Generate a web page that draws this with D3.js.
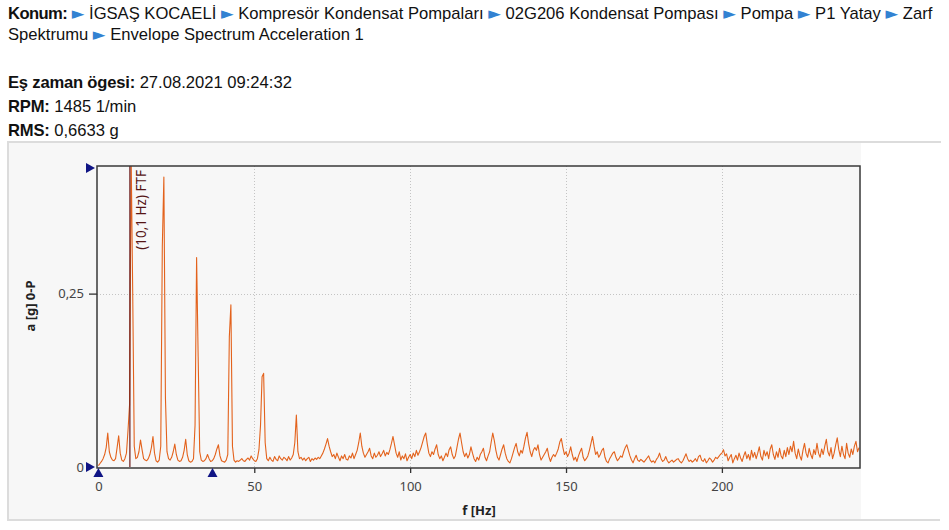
<!DOCTYPE html>
<html><head><meta charset="utf-8">
<script src="https://cdn.jsdelivr.net/npm/d3@7"></script>
<style>
html,body{margin:0;padding:0;background:#fff;}
svg{display:block;}
</style></head>
<body>
<svg id="chart" width="949" height="530"></svg>
<script>
// ---------- data ----------
const breadcrumb = ["İGSAŞ KOCAELİ", "Kompresör Kondensat Pompaları", "02G206 Kondensat Pompası", "Pompa", "P1 Yatay", "Zarf Spektrumu", "Envelope Spectrum Acceleration 1"];
const infoLabels = ["Eş zaman ögesi:", "RPM:", "RMS:"];
const infoValues = ["27.08.2021 09:24:32", "1485 1/min", "0,6633 g"];

const freqStart = 0;      // Hz
const freqStep = 0.5;     // Hz per spectral line
// amplitude per spectral line, in milli-g (0-P)
const ampMg = [
  2,5,8,12,18,28,49,22,14,10,9,12,28,45,20,10,8,12,20,53,
  90,450,253,30,12,14,22,39,25,12,10,9,12,18,28,44,20,9,7,10,
  30,318,418,100,22,12,10,14,22,33,18,10,8,9,14,24,40,18,9,7,
  8,12,60,302,159,22,10,8,9,12,18,12,8,9,12,18,26,32,16,9,
  8,7,10,18,188,234,30,10,7,9,8,10,12,9,8,11,13,10,16,12,
  9,8,12,25,60,130,135,35,12,9,14,10,8,15,11,9,16,12,10,14,
  12,9,15,10,13,18,35,75,22,12,14,10,13,9,12,14,8,12,10,13,
  11,14,12,16,20,26,33,41,30,22,15,18,12,20,14,9,16,12,18,11,
  10,16,13,20,12,18,24,35,49,30,20,14,18,22,27,16,12,20,14,17,
  22,15,19,24,16,21,18,25,34,44,32,20,14,22,10,16,12,19,9,14,
  18,12,20,15,24,17,22,28,36,44,49,33,20,15,22,18,26,32,18,12,
  16,9,14,20,15,25,29,18,12,16,28,40,49,35,22,15,20,13,18,29,
  20,12,8,14,10,18,22,27,14,9,16,22,36,49,38,24,14,10,18,26,
  32,20,12,8,6,12,20,28,34,22,16,24,20,30,42,50,34,22,15,24,
  28,24,32,18,10,14,18,22,27,15,8,14,18,15,20,26,36,41,28,18,
  22,15,20,29,18,10,14,8,16,22,27,14,9,12,16,24,34,44,30,18,
  22,14,18,24,27,14,8,6,12,16,20,22,14,9,12,16,14,22,28,32,
  24,16,10,6,12,17,10,8,11,9,7,10,13,16,10,7,9,6,11,14,
  20,12,8,10,15,9,6,8,10,7,9,11,12,8,6,9,14,19,12,8,
  10,7,9,12,8,15,17,10,8,12,6,9,13,11,7,10,14,12,15,18,
  20,25,16,19,9,14,18,6,12,17,10,20,13,8,16,22,12,18,10,24,
  14,21,12,20,29,15,10,24,16,22,12,26,32,18,11,22,14,27,16,12,
  24,15,28,18,30,22,37,20,12,26,16,10,24,34,20,14,27,18,12,25,
  18,34,20,14,26,18,30,40,22,16,28,12,20,32,42,25,15,30,18,12,
  34,20,14,26,18,30,37,22,28
];
const xDomain = [-0.45, 244.3];
const yDomain = [0, 0.434];
const xTicks = [0, 50, 100, 150, 200];
const yTicks = [0, 0.25];
const cursorFreq = [10.1];
const cursorLabel = ["(10,1 Hz) FTF"];
const xMarkers = [0, 36.6];      // blue range markers on the frequency axis
const yMarkers = [0.431, 0];     // blue range markers on the amplitude axis
const xTitle = "f [Hz]";
const yTitle = "a [g] 0-P";

// ---------- drawing ----------
const svg = d3.select("#chart");
const M = {left: 97, right: 860, top: 166, bottom: 467};
const x = d3.scaleLinear().domain(xDomain).range([M.left, M.right]);
const y = d3.scaleLinear().domain(yDomain).range([M.bottom, M.top]);

// header
const hFont = "'Liberation Sans', Arial, sans-serif";
const hSize = 16.6;
const blue = "#3282d2";
function arrow(t) {
  t.append("tspan").attr("fill", blue).attr("font-family", "'DejaVu Sans', sans-serif").attr("font-size", 16.5).text("►");
}
const line1 = svg.append("text").attr("x", 8).attr("y", 19).attr("font-family", hFont).attr("font-size", hSize).attr("fill", "#111");
line1.append("tspan").attr("font-weight", "bold").attr("letter-spacing", -0.6).text("Konum:");
const crumbs1 = breadcrumb.slice(0, 5).concat(["Zarf"]);
crumbs1.forEach(c => {
  line1.append("tspan").text(" ");
  arrow(line1);
  line1.append("tspan").text(" " + c);
});
const line2 = svg.append("text").attr("x", 8).attr("y", 40).attr("font-family", hFont).attr("font-size", hSize).attr("fill", "#111");
line2.append("tspan").text("Spektrumu ");
arrow(line2);
line2.append("tspan").text(" " + breadcrumb[6]);

infoLabels.forEach((lab, i) => {
  const t = svg.append("text").attr("x", 8).attr("y", 88 + i * 24).attr("font-family", hFont).attr("font-size", hSize).attr("fill", "#111");
  t.append("tspan").attr("font-weight", "bold").attr("letter-spacing", -0.2).text(lab);
  t.append("tspan").text(" " + infoValues[i]);
});

// panel
svg.append("rect").attr("x", 9).attr("y", 143).attr("width", 852).attr("height", 376).attr("fill", "#f7f7f7");
const pb = svg.append("g").attr("stroke", "#dcdcdc").attr("stroke-width", 2).attr("fill", "none");
pb.append("line").attr("x1", 7).attr("x2", 941).attr("y1", 142).attr("y2", 142);
pb.append("line").attr("x1", 8).attr("x2", 8).attr("y1", 142).attr("y2", 520);
pb.append("line").attr("x1", 7).attr("x2", 940).attr("y1", 520).attr("y2", 520);

// grid
const grid = svg.append("g").attr("stroke", "#c4c4c4").attr("stroke-width", 1).attr("stroke-dasharray", "1,2");
grid.selectAll("line.gx").data(xTicks.filter(d => d > 0)).join("line")
  .attr("x1", d => Math.round(x(d)) + 0.5).attr("x2", d => Math.round(x(d)) + 0.5)
  .attr("y1", M.top).attr("y2", M.bottom);
grid.selectAll("line.gy").data(yTicks.filter(d => d > 0)).join("line")
  .attr("y1", d => Math.round(y(d)) + 0.5).attr("y2", d => Math.round(y(d)) + 0.5)
  .attr("x1", M.left).attr("x2", M.right);

// clip
svg.append("defs").append("clipPath").attr("id", "clip")
  .append("rect").attr("x", M.left).attr("y", M.top).attr("width", M.right - M.left).attr("height", M.bottom - M.top + 1);

// spectrum
const data = ampMg.map((a, i) => ({f: freqStart + i * freqStep, a: a / 1000}));
svg.append("path").datum(data)
  .attr("clip-path", "url(#clip)")
  .attr("fill", "none").attr("stroke", "#e3621c").attr("stroke-width", 1.1).attr("stroke-linejoin", "round")
  .attr("d", d3.line().x(d => x(d.f)).y(d => y(d.a)));

// cursor
svg.selectAll("line.cursor").data(cursorFreq).join("line")
  .attr("x1", d => x(d)).attr("x2", d => x(d)).attr("y1", M.top).attr("y2", M.bottom)
  .attr("stroke", "#6a1818").attr("stroke-width", 1.2);
svg.selectAll("text.cursorLab").data(cursorFreq).join("text")
  .attr("transform", d => `translate(${x(d) + 16},${M.top + 4}) rotate(-90)`)
  .attr("text-anchor", "end").attr("font-family", "'Noto Sans', sans-serif").attr("font-size", 13.5)
  .attr("fill", "#561515").text((d, i) => cursorLabel[i]);

// frame
svg.append("rect").attr("x", M.left).attr("y", M.top).attr("width", M.right - M.left).attr("height", M.bottom - M.top + 1)
  .attr("fill", "none").attr("stroke", "#3a3a3a").attr("stroke-width", 1.5);

// axes
const axFont = "'Noto Sans', sans-serif";
const gy = svg.append("g").attr("transform", `translate(${M.left},0)`)
  .call(d3.axisLeft(y).tickValues(yTicks).tickSize(8).tickPadding(5)
    .tickFormat(d => d === 0 ? "0" : d3.format(".2f")(d).replace(".", ",")));
gy.select(".domain").remove();
gy.selectAll("text").attr("font-family", axFont).attr("font-size", 13).attr("fill", "#444");
gy.selectAll("line").attr("stroke", "#333").attr("stroke-width", 1.3);
gy.selectAll(".tick").filter(d => d === 0).select("line").remove();

const gx = svg.append("g").attr("transform", `translate(0,${M.bottom + 1})`)
  .call(d3.axisBottom(x).tickValues(xTicks).tickSize(5).tickPadding(9).tickFormat(d3.format("d")));
gx.select(".domain").remove();
gx.selectAll("text").attr("font-family", axFont).attr("font-size", 13).attr("fill", "#444");
gx.selectAll("line").attr("stroke", "#333").attr("stroke-width", 1.3);
gx.selectAll(".tick").filter(d => d === 0).select("line").remove();

// titles
svg.append("text").attr("x", 479).attr("y", 515).attr("text-anchor", "middle")
  .attr("font-family", axFont).attr("font-weight", "bold").attr("font-size", 13).attr("fill", "#222").text(xTitle);
svg.append("text").attr("transform", "translate(35,306) rotate(-90)").attr("text-anchor", "middle")
  .attr("font-family", axFont).attr("font-weight", "bold").attr("font-size", 13).attr("fill", "#222").text(yTitle);

// blue markers
const navy = "#101585";
svg.selectAll("path.ym").data(yMarkers).join("path")
  .attr("d", d => `M${M.left - 2},${y(d)} L${M.left - 11},${y(d) - 5} L${M.left - 11},${y(d) + 5} Z`)
  .attr("fill", navy);
svg.selectAll("path.xm").data(xMarkers).join("path")
  .attr("d", d => `M${x(d)},${M.bottom + 1} L${x(d) - 5},${M.bottom + 10} L${x(d) + 5},${M.bottom + 10} Z`)
  .attr("fill", navy);
</script>
</body></html>
